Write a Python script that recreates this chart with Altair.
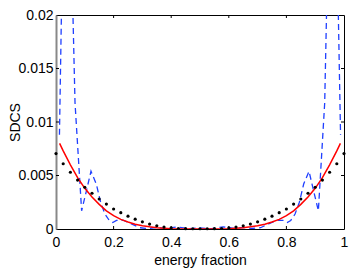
import altair as alt
import pandas as pd

# black dotted series (every 0.025)
dot_x = [0.0, 0.025, 0.05, 0.075, 0.1, 0.125, 0.15, 0.175, 0.2, 0.225, 0.25,
         0.275, 0.3, 0.325, 0.35, 0.375, 0.4, 0.425, 0.45, 0.475, 0.5,
         0.525, 0.55, 0.575, 0.6, 0.625, 0.65, 0.675, 0.7, 0.725, 0.75,
         0.775, 0.8, 0.825, 0.85, 0.875, 0.9, 0.925, 0.95, 0.975, 1.0]
dot_y = [0.00705, 0.0061, 0.0053, 0.00457, 0.0039, 0.00334, 0.0028, 0.00233,
         0.00187, 0.00153, 0.0012, 0.00092, 0.00067, 0.00046, 0.0003, 0.00018,
         0.0001, 0.00005, 0.00003, 0.00002, 0.00002,
         0.00002, 0.00003, 0.00005, 0.0001, 0.00018, 0.0003, 0.00046, 0.00067,
         0.00092, 0.0012, 0.00153, 0.00187, 0.00233, 0.0028, 0.00334, 0.0039,
         0.00457, 0.0053, 0.0061, 0.00705]

# red solid curve
red_x = [0.0125, 0.025, 0.05, 0.075, 0.1, 0.125, 0.15, 0.175, 0.2, 0.225, 0.25,
         0.275, 0.3, 0.325, 0.35, 0.375, 0.4, 0.425, 0.45, 0.475, 0.5,
         0.525, 0.55, 0.575, 0.6, 0.625, 0.65, 0.675, 0.7, 0.725, 0.75,
         0.775, 0.8, 0.825, 0.85, 0.875, 0.9, 0.925, 0.95, 0.975, 0.9875]
red_y = [0.0080, 0.0073, 0.0060, 0.0048, 0.0038, 0.0030, 0.0023, 0.0017,
         0.00125, 0.0009, 0.00065, 0.00045, 0.0003, 0.0002, 0.00012, 0.00007,
         0.00003, 0.00001, 0.0, 0.0, 0.0,
         0.0, 0.0, 0.00001, 0.00003, 0.00007, 0.00012, 0.0002, 0.0003,
         0.00045, 0.00065, 0.0009, 0.00125, 0.0017, 0.0023, 0.0030, 0.0038,
         0.0048, 0.0060, 0.0073, 0.0080]

# blue dashed curve
blue_x = [0.012, 0.02, 0.04, 0.058, 0.066, 0.089, 0.105, 0.1215, 0.14, 0.155,
          0.17, 0.185, 0.197, 0.21, 0.235, 0.26, 0.29, 0.32, 0.35, 0.38, 0.42,
          0.46, 0.5, 0.54, 0.58, 0.62, 0.65, 0.68, 0.71, 0.74, 0.765, 0.79,
          0.803, 0.815, 0.83, 0.845, 0.86, 0.8785, 0.895, 0.911, 0.933, 0.94,
          0.96, 0.979, 0.988]
blue_y = [0.0088, 0.022, 0.032, 0.021, 0.0118, 0.0017, 0.0035, 0.0054, 0.0042,
          0.0025, 0.0014, 0.0008, 0.0006, 0.0008, 0.0008, 0.0005, 0.00012,
          0.00005, 0.00015, 0.00005, 0.0002, 0.00003, 0.0001, 0.00003, 0.0002,
          0.00005, 0.00015, 0.00005, 0.00012, 0.0005, 0.0008, 0.0008, 0.0006,
          0.0008, 0.0014, 0.0025, 0.0042, 0.0054, 0.0035, 0.0017, 0.0118,
          0.021, 0.032, 0.022, 0.0088]

x_ticks = [0.2, 0.4, 0.6, 0.8]
y_ticks = [0.005, 0.01, 0.015]

FONT = "Liberation Sans"
W, H = 288, 214

xs = alt.Scale(domain=[0, 1], nice=False)
ys = alt.Scale(domain=[0, 0.02], nice=False)

dots = pd.DataFrame({"x": dot_x, "y": dot_y})
red = pd.DataFrame({"x": red_x, "y": red_y})
blue = pd.DataFrame({"x": blue_x, "y": blue_y})
xt = pd.DataFrame({"x": x_ticks})
yt = pd.DataFrame({"y": y_ticks})

xaxis = alt.Axis(values=[0, 0.2, 0.4, 0.6, 0.8, 1], format=".1~f", ticks=False,
                 domain=False, grid=False, labelFont=FONT, labelFontSize=14,
                 labelColor="black", labelPadding=6, labelFlush=False,
                 title="energy fraction",
                 titleFont=FONT, titleFontSize=14, titleFontWeight="normal",
                 titleColor="black", titlePadding=4)
yaxis = alt.Axis(values=[0, 0.005, 0.01, 0.015, 0.02], format=".3~f", ticks=False,
                 domain=True, domainColor="#888888", domainWidth=2, grid=False,
                 labelFont=FONT, labelFontSize=14, labelColor="black",
                 labelPadding=3, labelFlush=False, title="SDCS", titleFont=FONT,
                 titleFontSize=14, titleFontWeight="normal", titleColor="black",
                 titleBaseline="alphabetic", titleX=-37, titleY=H / 2,
                 titleAngle=270)

blue_line = alt.Chart(blue).mark_line(
    color="#1f3fff", strokeWidth=1.3, strokeDash=[6, 4], clip=True
).encode(x=alt.X("x:Q", scale=xs, axis=xaxis), y=alt.Y("y:Q", scale=ys, axis=yaxis))

red_line = alt.Chart(red).mark_line(color="#ff0000", strokeWidth=1.5, clip=True).encode(
    x=alt.X("x:Q", scale=xs), y=alt.Y("y:Q", scale=ys))

dot_marks = alt.Chart(dots).mark_circle(color="black", size=10, opacity=1).encode(
    x=alt.X("x:Q", scale=xs), y=alt.Y("y:Q", scale=ys))

tick_bottom = alt.Chart(xt).mark_rule(color="black", strokeWidth=1).encode(
    x=alt.X("x:Q", scale=xs), y=alt.value(H), y2=alt.value(H - 3))
tick_top = alt.Chart(xt).mark_rule(color="black", strokeWidth=1).encode(
    x=alt.X("x:Q", scale=xs), y=alt.value(0), y2=alt.value(3))
tick_left = alt.Chart(yt).mark_rule(color="black", strokeWidth=1).encode(
    y=alt.Y("y:Q", scale=ys), x=alt.value(0), x2=alt.value(3))
tick_right = alt.Chart(yt).mark_rule(color="black", strokeWidth=1).encode(
    y=alt.Y("y:Q", scale=ys), x=alt.value(W), x2=alt.value(W - 3))

chart = alt.layer(
    blue_line, red_line, dot_marks, tick_bottom, tick_top, tick_left, tick_right
).properties(
    width=W, height=H,
    autosize=alt.AutoSizeParams(type="none"),
    padding={"left": 48, "top": 7, "right": 5, "bottom": 40},
    background="white",
).configure_view(stroke="black", strokeWidth=1)

chart.save("out.html", embed_options={"renderer": "svg", "actions": False})
